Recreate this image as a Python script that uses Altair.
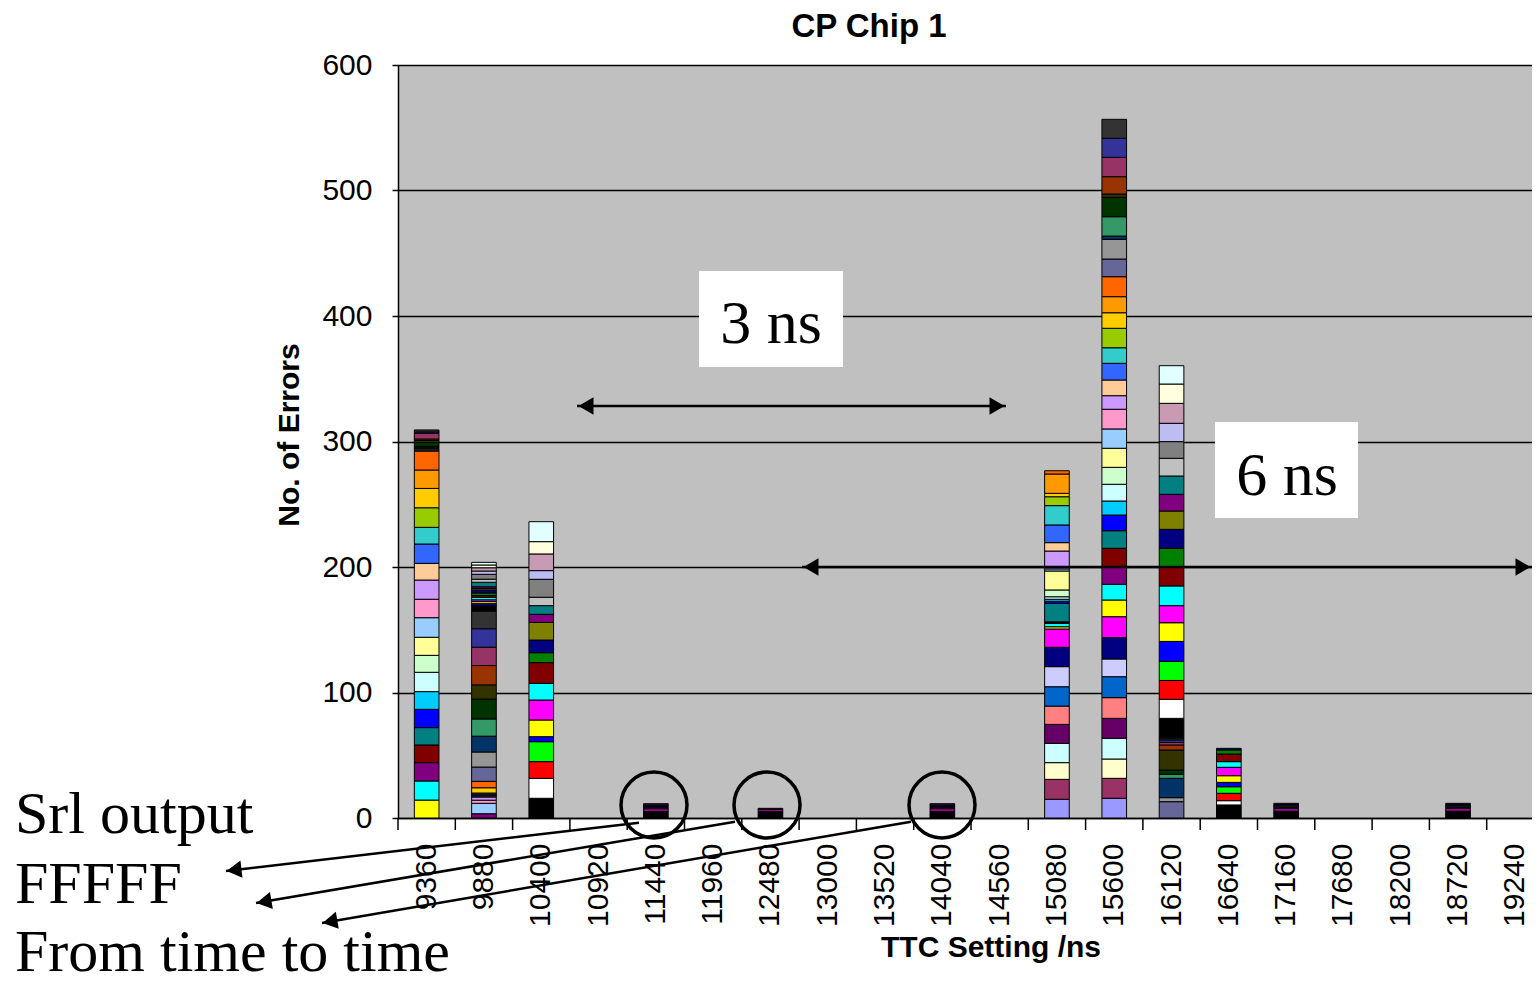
import altair as alt
import pandas as pd

CATEGORIES = ["9360", "9880", "10400", "10920", "11440", "11960", "12480", "13000",
              "13520", "14040", "14560", "15080", "15600", "16120", "16640", "17160",
              "17680", "18200", "18720", "19240"]

SERIES_COLORS = [
    "#9999FF", "#993366", "#FFFFCC", "#CCFFFF", "#660066", "#FF8080", "#0066CC", "#CCCCFF",
    "#000080", "#FF00FF", "#FFFF00", "#00FFFF", "#800080", "#800000", "#008080", "#0000FF",
    "#00CCFF", "#CCFFFF", "#CCFFCC", "#FFFF99", "#99CCFF", "#FF99CC", "#CC99FF", "#FFCC99",
    "#3366FF", "#33CCCC", "#99CC00", "#FFCC00", "#FF9900", "#FF6600", "#666699", "#969696",
    "#003366", "#339966", "#003300", "#333300", "#993300", "#993366", "#333399", "#333333",
    "#000000", "#FFFFFF", "#FF0000", "#00FF00", "#0000FF", "#FFFF00", "#FF00FF", "#00FFFF",
    "#800000", "#008000", "#000080", "#808000", "#800080", "#008080", "#C0C0C0", "#808080",
    "#BDBDF2", "#C99AB4", "#FFFFE0", "#E2FFFF",
]

# stacked values per TTC setting: first series number and consecutive series values
BAR_9360_START = 11
BAR_9360 = [14.3, 15.2, 14.6, 14.1, 13.8, 14.6, 14.1, 15.4, 13.5, 14.4, 15.6, 14.7, 15.3, 13.3,
            15.4, 13.3, 15.6, 15.4, 14.7, 15.1, 0.9, 0.9, 0.9, 0.9, 3.2, 1.6, 1.2, 4.5, 1.1, 1.6]

BAR_9880 = {13: 3.4, 21: 8.3, 22: 2.5, 23: 2.5, 24: 0.8, 25: 0.8, 26: 0.8, 27: 0.8, 28: 4.2,
            30: 5.1, 31: 11.4, 32: 12.0, 33: 12.6, 34: 13.7, 35: 15.9, 36: 11.3, 37: 15.4,
            38: 14.6, 39: 14.7, 40: 14.1, 41: 3.5, 42: 0.4, 43: 0.4, 44: 0.4, 45: 1.5, 46: 1.4,
            47: 1.4, 48: 2.0, 49: 1.4, 50: 2.0, 51: 2.4, 52: 1.2, 53: 1.4, 54: 3.5, 55: 2.5,
            56: 3.9, 57: 2.6, 58: 2.6, 59: 2.2, 60: 2.1}

BAR_10400_START = 41
BAR_10400 = [15.7, 15.9, 13.3, 15.9, 4.0, 13.3, 15.9, 13.3, 16.5, 7.9, 10.1, 14.1, 6.4, 6.9,
             6.7, 14.3, 6.9, 13.3, 9.8, 15.9]

BAR_11440 = {41: 5.5, 47: 1.8, 49: 1.0, 50: 1.0, 51: 1.1, 53: 1.0}
BAR_12480 = {41: 5.5, 47: 1.4, 49: 0.8}
BAR_14040 = {41: 5.5, 47: 1.8, 49: 1.0, 50: 1.0, 51: 1.1, 53: 1.0}

BAR_15080_START = 1
BAR_15080 = [14.9, 15.9, 13.3, 15.4, 15.1, 14.6, 15.4, 16.0, 15.4, 14.6, 1.8, 2.7, 0.6, 0.6,
             14.8, 1.6, 1.6, 2.0, 5.4, 15.1, 1.7, 1.7, 12.5, 6.7, 14.1, 15.4, 7.1, 2.7, 15.4, 2.6]

BAR_15600_START = 1
BAR_15600 = [15.7, 15.9, 15.4, 16.5, 15.9, 16.5, 16.7, 14.1, 17.0, 16.7, 13.3, 12.5, 14.0, 14.7,
             14.0, 12.5, 11.2, 13.3, 13.5, 15.2, 15.4, 15.7, 10.8, 12.5, 13.3, 12.4, 15.5, 12.4,
             12.8, 15.9, 14.1, 15.7, 2.6, 15.4, 15.5, 2.6, 13.8, 15.4, 15.2, 15.1]

BAR_16120_START = 31
BAR_16120 = [13.0, 3.2, 15.4, 3.2, 3.4, 16.0, 4.0, 2.0, 2.0, 1.5, 15.7, 15.2, 15.0, 15.2, 15.9,
             14.9, 13.6, 15.7, 14.9, 15.1, 15.1, 14.6, 13.3, 14.6, 14.1, 13.3, 14.6, 15.9, 15.4,
             14.6]

BAR_16640_START = 41
BAR_16640 = [10.4, 3.4, 5.9, 5.2, 3.5, 5.3, 6.7, 4.5, 6.1, 3.2, 1.3]

BAR_17160 = {41: 5.6, 47: 1.8, 49: 1.1, 50: 1.1, 51: 1.1, 53: 1.0}
BAR_18720 = {41: 5.6, 47: 1.8, 49: 1.1, 50: 1.1, 51: 1.1, 53: 1.0}


def seq(start, vals):
    return {start + i: v for i, v in enumerate(vals)}


BARS = {
    "9360": seq(BAR_9360_START, BAR_9360),
    "9880": BAR_9880,
    "10400": seq(BAR_10400_START, BAR_10400),
    "11440": BAR_11440,
    "12480": BAR_12480,
    "14040": BAR_14040,
    "15080": seq(BAR_15080_START, BAR_15080),
    "15600": seq(BAR_15600_START, BAR_15600),
    "16120": seq(BAR_16120_START, BAR_16120),
    "16640": seq(BAR_16640_START, BAR_16640),
    "17160": BAR_17160,
    "18720": BAR_18720,
}

rows = []
for cat, d in BARS.items():
    for s, v in d.items():
        rows.append({"cat": cat, "series": s, "value": v})
df = pd.DataFrame(rows)
SERIES_IDS = list(range(1, 61))

PLOT_W = 1134
PLOT_H = 753
RANGE_W = 1146
STEP = RANGE_W / 20.0

xscale = alt.Scale(domain=CATEGORIES, paddingInner=0.57, paddingOuter=0.285, range=[0, RANGE_W])

bars = alt.Chart(df).mark_bar(stroke="black", strokeWidth=1).encode(
    x=alt.X("cat:O", sort=CATEGORIES, scale=xscale,
            axis=alt.Axis(title=None, labelAngle=270, labelFontSize=30, ticks=False,
                          domainColor="black", domainWidth=1.5, labelPadding=25,
                          labelColor="black", grid=False, labelFont="Liberation Sans")),
    y=alt.Y("value:Q", stack="zero",
            scale=alt.Scale(domain=[0, 600], nice=False),
            axis=alt.Axis(values=[0, 100, 200, 300, 400, 500, 600], grid=True,
                          gridColor="black", gridWidth=1.3, domainColor="black",
                          domainWidth=1.5, tickColor="black", tickSize=6, tickWidth=1.5,
                          labelFontSize=30, labelPadding=20, labelColor="black",
                          title=None, labelFont="Liberation Sans")),
    color=alt.Color("series:N", scale=alt.Scale(domain=SERIES_IDS, range=SERIES_COLORS),
                    legend=None),
    order=alt.Order("series:Q", sort="ascending"),
)

ticks = alt.Chart(pd.DataFrame({"cat": CATEGORIES})).mark_rule(
    color="black", strokeWidth=1.5, xOffset=-STEP / 2
).encode(
    x=alt.X("cat:O", sort=CATEGORIES, scale=xscale),
    y=alt.value(PLOT_H),
    y2=alt.value(PLOT_H + 12),
)

def px(ch, field):
    return ch(field + ":Q", scale=None)

boxes = alt.Chart(pd.DataFrame({
    "x": [301, 817], "x2": [445, 960], "y": [206, 357], "y2": [302, 453]
})).mark_rect(fill="white").encode(
    x=px(alt.X, "x"), x2="x2:Q", y=px(alt.Y, "y"), y2="y2:Q")

box_text = alt.Chart(pd.DataFrame({
    "x": [373, 889], "y": [278, 430], "t": ["3 ns", "6 ns"]
})).mark_text(font="Liberation Serif", fontSize=62, align="center", baseline="alphabetic",
              color="black").encode(x=px(alt.X, "x"), y=px(alt.Y, "y"), text="t:N")

lines = alt.Chart(pd.DataFrame({
    "x": [179, 404, 241, 337, 513],
    "y": [341, 502, 757.7, 756.7, 756.7],
    "x2": [608, 1134, -172, -142, -76],
    "y2": [341, 502, 806, 838, 858],
})).mark_rule(color="black", strokeWidth=2.5).encode(
    x=px(alt.X, "x"), x2="x2:Q", y=px(alt.Y, "y"), y2="y2:Q")

tris = alt.Chart(pd.DataFrame({
    "x": [188, 599, 413, 1125, -164, -134, -68.1],
    "y": [341, 341, 502, 502, 805, 836.7, 856.6],
    "shape": ["triangle-left", "triangle-right", "triangle-left", "triangle-right",
              "triangle-left", "triangle-left", "triangle-left"],
    "angle": [0, 0, 0, 0, 353.3, 350.4, 350.2],
})).mark_point(filled=True, color="black", size=300, opacity=1).encode(
    x=px(alt.X, "x"), y=px(alt.Y, "y"),
    shape=alt.Shape("shape:N", scale=None),
    angle=alt.Angle("angle:Q", scale=None))

circles = alt.Chart(pd.DataFrame({
    "x": [256, 369, 544], "y": [740, 740, 740]
})).mark_point(shape="circle", filled=False, color="black", strokeWidth=3.5, size=4356,
               opacity=1).encode(x=px(alt.X, "x"), y=px(alt.Y, "y"))

left_text = alt.Chart(pd.DataFrame({
    "x": [-383, -383, -383], "y": [768, 838, 906],
    "t": ["Srl output", "FFFFF", "From time to time"]
})).mark_text(font="Liberation Serif", fontSize=60, align="left", baseline="alphabetic",
              color="black").encode(x=px(alt.X, "x"), y=px(alt.Y, "y"), text="t:N")

titles = alt.Chart(pd.DataFrame({
    "x": [471, 593], "y": [-38, 883], "t": ["CP Chip 1", "TTC Setting /ns"],
    "s": [33, 30]
})).mark_text(font="Liberation Sans", fontWeight="bold", align="center", baseline="middle",
              color="black").encode(x=px(alt.X, "x"), y=px(alt.Y, "y"), text="t:N",
                                    size=alt.Size("s:Q", scale=None))

ytitle = alt.Chart(pd.DataFrame({"x": [-108], "y": [370], "t": ["No. of Errors"]})).mark_text(
    font="Liberation Sans", fontWeight="bold", fontSize=30, angle=270, align="center",
    baseline="middle", color="black").encode(x=px(alt.X, "x"), y=px(alt.Y, "y"), text="t:N")

chart = alt.layer(
    bars, ticks, boxes, box_text, lines, tris, circles, left_text, titles, ytitle
).properties(
    width=PLOT_W, height=PLOT_H,
    padding={"left": 390, "top": 57, "right": 0, "bottom": 168},
    autosize=alt.AutoSizeParams(type="none"),
    background="white",
).configure_view(fill="#C0C0C0", strokeWidth=0)

chart.save("out.html", embed_options={"renderer": "svg", "actions": False})
